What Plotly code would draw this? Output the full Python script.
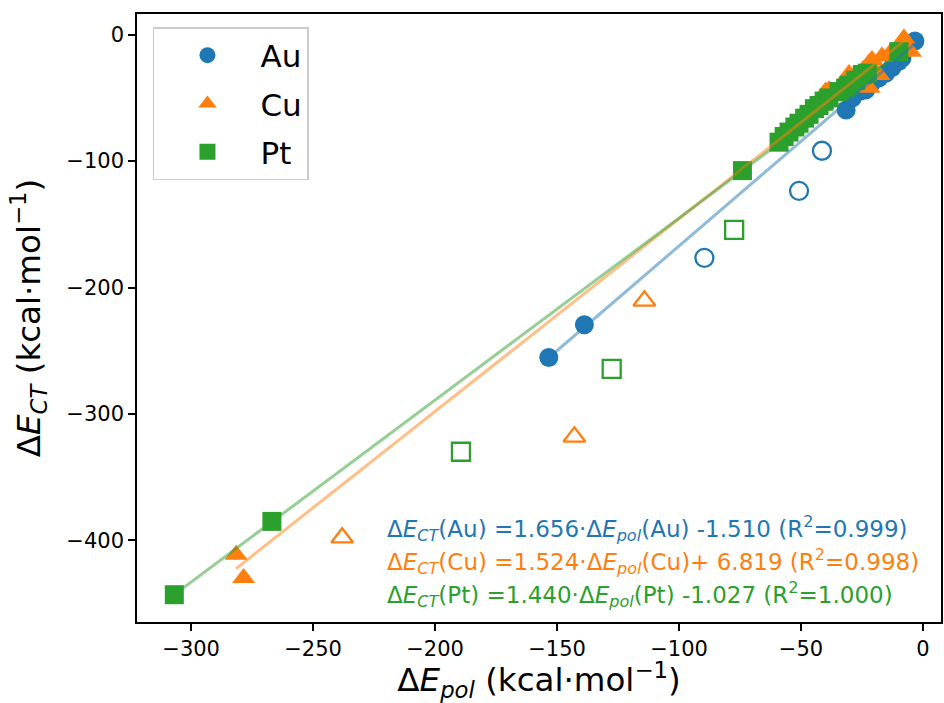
import numpy as np
import plotly.graph_objects as go

# ---------------- data ----------------
au_x = [-153.4, -138.8, -31.5, -29.0, -26.0, -23.5, -21.0, -18.0, -15.3, -12.7, -10.0, -8.6, -3.3]
au_y = [-255.4, -229.5, -59.5, -50.0, -45.0, -43.7, -38.0, -34.0, -30.4, -26.0, -21.3, -18.5, -5.0]
au_out_x = [-41.4, -50.8, -89.6]
au_out_y = [-91.8, -123.5, -176.5]

cu_x = [-281.6, -278.5, -45.0, -42.0, -39.9, -38.5, -35.0, -32.5, -30.3, -27.0, -24.5, -22.1, -22.1,
        -20.9, -18.0, -16.8, -13.5, -10.0, -7.8, -5.1]
cu_y = [-411.4, -429.8, -62.0, -56.0, -45.0, -44.0, -46.5, -38.0, -31.0, -36.0, -28.0, -22.5, -42.0,
        -20.0, -31.8, -17.3, -14.6, -12.0, -3.0, -13.4]
cu_out_x = [-114.2, -142.9, -238.1]
cu_out_y = [-210.5, -318.1, -397.9]

pt_x = [-306.9, -266.9, -74.0, -59.0, -56.9, -54.9, -52.5, -50.8, -48.5, -46.7, -44.5, -42.6, -40.5,
        -38.5, -34.4, -31.7, -30.3, -27.5, -24.9, -22.8, -9.9]
pt_y = [-443.0, -385.0, -107.5, -85.0, -80.5, -77.0, -73.0, -70.0, -66.0, -63.0, -58.5, -56.0, -52.5,
        -50.0, -45.0, -42.3, -40.0, -36.0, -31.5, -30.4, -13.4]
pt_out_x = [-77.4, -127.6, -189.4]
pt_out_y = [-154.4, -264.3, -329.9]

metals = ["Au", "Cu", "Pt"]
slopes = [1.656, 1.524, 1.440]
intercepts = [-1.510, 6.819, -1.027]
eq_texts = [
    "Δ<i>E</i><sub><i>CT</i></sub>(Au) =1.656·Δ<i>E</i><sub><i>pol</i></sub>(Au) -1.510 (R<sup>2</sup>=0.999)",
    "Δ<i>E</i><sub><i>CT</i></sub>(Cu) =1.524·Δ<i>E</i><sub><i>pol</i></sub>(Cu)+ 6.819 (R<sup>2</sup>=0.998)",
    "Δ<i>E</i><sub><i>CT</i></sub>(Pt) =1.440·Δ<i>E</i><sub><i>pol</i></sub>(Pt) -1.027 (R<sup>2</sup>=1.000)",
]
x_ticks = [-300, -250, -200, -150, -100, -50, 0]
y_ticks = [0, -100, -200, -300, -400]

colors = ["#1f77b4", "#ff7f0e", "#2ca02c"]
line_rgba = ["rgba(31,119,180,0.5)", "rgba(255,127,14,0.5)", "rgba(44,160,44,0.5)"]
symbols = ["circle", "triangle-up", "square"]
sizes = [19, 20, 19]

filled = [(au_x, au_y), (cu_x, cu_y), (pt_x, pt_y)]
outliers = [(au_out_x, au_out_y), (cu_out_x, cu_out_y), (pt_out_x, pt_out_y)]

FONT = "DejaVu Sans"
fig = go.Figure()

for i, m in enumerate(metals):
    fx, fy = filled[i]
    fig.add_trace(go.Scatter(
        x=fx, y=fy, mode="markers", name=m, legendgroup=m,
        marker=dict(symbol=symbols[i], size=sizes[i], color=colors[i], line=dict(width=0)),
    ))
for i, m in enumerate(metals):
    ox, oy = outliers[i]
    fig.add_trace(go.Scatter(
        x=ox, y=oy, mode="markers", showlegend=False,
        marker=dict(symbol=symbols[i] + "-open", size=sizes[i] - 1, color=colors[i],
                    line=dict(width=2.3, color=colors[i])),
    ))
for i, m in enumerate(metals):
    fx, _ = filled[i]
    lx = np.array([min(fx), max(fx)])
    ly = slopes[i] * lx + intercepts[i]
    fig.add_trace(go.Scatter(
        x=lx, y=ly, mode="lines", showlegend=False,
        line=dict(color=line_rgba[i], width=3),
    ))

for i, t in enumerate(eq_texts):
    fig.add_annotation(
        text=t, xref="paper", yref="paper", x=(386 - 137) / 806, y=1 - (528 + i * 33 - 14) / 608,
        xanchor="left", yanchor="middle", showarrow=False,
        font=dict(family=FONT, size=23, color=colors[i]),
    )

axis_common = dict(
    showline=True, linecolor="black", linewidth=1.6, mirror=True,
    ticks="outside", ticklen=7, tickwidth=1.6, tickcolor="black",
    showgrid=False, zeroline=False,
    tickfont=dict(family=FONT, size=21, color="black"),
)

fig.update_layout(
    width=944, height=703,
    margin=dict(l=137, r=1, t=14, b=81),
    paper_bgcolor="white", plot_bgcolor="white",
    font=dict(family=FONT, color="black"),
    xaxis=dict(range=[-322.2, 7.4], tickvals=x_ticks,
               title=dict(text="Δ<i>E</i><sub><i>pol</i></sub> (kcal·mol<sup>−1</sup>)",
                          font=dict(family=FONT, size=32.5), standoff=14),
               **axis_common),
    yaxis=dict(range=[-464.6, 16.4], tickvals=y_ticks,
               title=dict(text="Δ<i>E</i><sub><i>CT</i></sub> (kcal·mol<sup>−1</sup>)",
                          font=dict(family=FONT, size=32.5), standoff=16),
               **axis_common),
    legend=dict(x=(153 - 137) / 806, y=1 - (27 - 14) / 608, xanchor="left", yanchor="top",
                bgcolor="rgba(255,255,255,0.8)", bordercolor="#cccccc", borderwidth=1.5,
                font=dict(family=FONT, size=31), itemwidth=96, tracegroupgap=5,
                itemsizing="trace"),
    showlegend=True,
)

fig.write_html("out.html")
